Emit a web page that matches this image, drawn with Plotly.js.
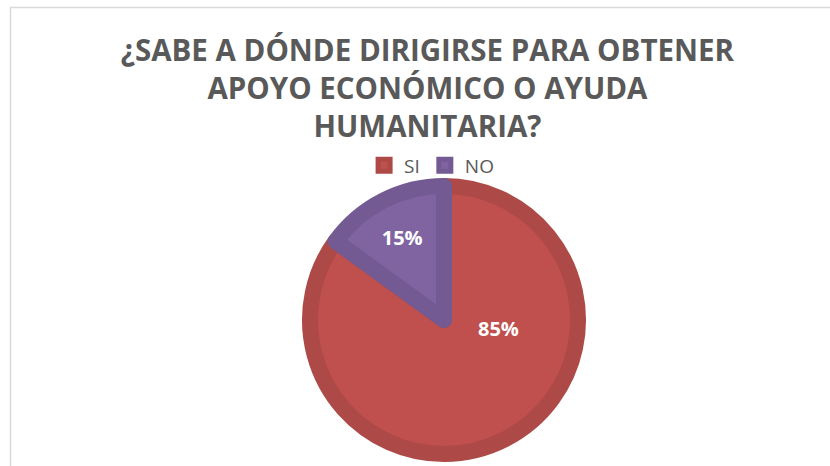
<!DOCTYPE html>
<html>
<head>
<meta charset="utf-8">
<script src="https://cdn.plot.ly/plotly-3.0.1.min.js"></script>
<style>html,body{margin:0;padding:0;background:#fff;}#chart{width:830px;height:466px;}</style>
</head>
<body>
<div id="chart"></div>
<script>
const categories = ["SI", "NO"];
const values = [85, 15];
const fillColors = ["#C0504D", "#8064A2"];
const borderColors = ["#AD4946", "#735A92"];
const titleText = "¿SABE A DÓNDE DIRIGIRSE PARA OBTENER<br>APOYO ECONÓMICO O AYUDA<br>HUMANITARIA?";

const W = 830, H = 466;
const cx = 444, cy = 320, r = 134;

const total = values.reduce((a, b) => a + b, 0);
const pct = values.map(v => Math.round(100 * v / total) + "%");

const data = [{
  type: "pie",
  labels: categories,
  values: values,
  sort: false,
  direction: "clockwise",
  rotation: 0,
  marker: {colors: fillColors, line: {color: borderColors, width: 16}},
  textinfo: "percent",
  texttemplate: ["", "%{percent:.0%}"],
  textposition: "inside",
  insidetextorientation: "horizontal",
  textfont: {family: "Open Sans", size: 20, color: "#FFFFFF", weight: "bold"},
  hoverinfo: "none",
  domain: {x: [(cx - r) / W, (cx + r) / W], y: [(H - cy - r) / H, (H - cy + r) / H]}
}];

const layout = {
  width: W, height: H,
  margin: {l: 0, r: 0, t: 0, b: 0},
  paper_bgcolor: "#FFFFFF",
  plot_bgcolor: "#FFFFFF",
  title: {
    text: titleText,
    font: {family: "Open Sans", size: 29.5, color: "#595959", weight: "bold"},
    x: 0.515, xanchor: "center",
    y: 0.87, yanchor: "top"
  },
  showlegend: true,
  legend: {
    orientation: "h",
    x: 0.52, xanchor: "center",
    y: 0.645, yanchor: "middle",
    font: {family: "Open Sans", size: 19, color: "#595959"},
    itemwidth: 30,
    bgcolor: "rgba(0,0,0,0)"
  },
  annotations: [{
    xref: "paper", yref: "paper",
    x: 498 / W, y: 1 - 328 / H,
    text: pct[0], showarrow: false,
    font: {family: "Open Sans", size: 20, color: "#FFFFFF", weight: "bold"},
    xanchor: "center", yanchor: "middle"
  }],
  shapes: [{
    type: "rect", xref: "paper", yref: "paper",
    x0: 10.5 / W, x1: 1.1, y0: -0.1, y1: 1 - 7.5 / H,
    line: {color: "#D9D9D9", width: 1.5},
    fillcolor: "rgba(0,0,0,0)", layer: "below"
  }]
};

Plotly.newPlot("chart", data, layout, {displayModeBar: false, staticPlot: true});
</script>
</body>
</html>
